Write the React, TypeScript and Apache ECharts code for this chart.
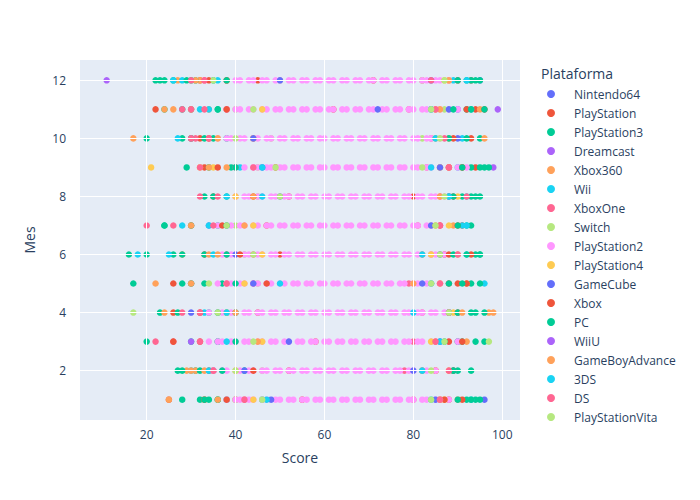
import React, { useEffect, useRef } from 'react';
import * as echarts from 'echarts';

const platforms = [
  'Nintendo64', 'PlayStation', 'PlayStation3', 'Dreamcast', 'Xbox360', 'Wii',
  'XboxOne', 'Switch', 'PlayStation2', 'PlayStation4', 'GameCube', 'Xbox',
  'PC', 'WiiU', 'GameBoyAdvance', '3DS', 'DS', 'PlayStationVita',
];
const colors = [
  '#636efa', '#EF553B', '#00cc96', '#ab63fa', '#FFA15A', '#19d3f3',
  '#FF6692', '#B6E880', '#FF97FF', '#FECB52', '#636efa', '#EF553B',
  '#00cc96', '#ab63fa', '#FFA15A', '#19d3f3', '#FF6692', '#B6E880',
];
const xTicks = [20, 40, 60, 80, 100];
const yTicks = [2, 4, 6, 8, 10, 12];

// scores per platform, one string per month (1..12)
const scores: Record<string, string[]> = {
  Nintendo64: ['96', '', '', '', '', '', '', '', '', '', '84 90', '95'],
  PlayStation: ['25 40 55 88', '34 52 85', '32 58 90', '26 45 88', '26 44 88', '33 50 87', '30 47 91', '35 52 80', '33 49 94', '32 44 93', '22 38 62 94', '32 45 71 93'],
  PlayStation3: ['28 32 36 46 92 94', '27 31 35 42 90', '20 30 36 91 96', '23 27 34 38 93', '17 28 33 37 93', '16 20 26 33 94 95', '24 30 36 92', '33 38 91 94', '29 34 39 93 96', '28 33 38 95', '24 30 36 92', '22 24 30 35 92 94'],
  Dreamcast: ['', '', '30', '', '', '', '', '', '98', '', '99', '11'],
  Xbox360: ['25 33 90', '29 31 85', '36 92', '24 97', '22 38 92', '28 34 90', '30 89', '40 88', '38 91', '17 30 96', '24 30 95', '27 32 88'],
  Wii: ['38 93', '30 89', '36 90', '33 88', '96', '18 35 92', '28 91', '38 92', '41 90', '27 91', '32 93', '28 89'],
  XboxOne: ['42 80', '35 78', '22 26 80', '28 82', '30 79', '38 84', '20 26 81', '32 86', '40 83', '31 84', '30 79', '33 82'],
  Switch: ['40 86', '46 82', '97', '17 88', '45 84', '42 86', '40 84', '45 88', '45 86', '48 82', '40 87', '50 82'],
  PlayStation2: [
    '38 40 41 43 44 46 47 49 50 52 53 55 56 58 59 61 62 64 65 67 68 70 71 73 74 76 77 79 80 82 83 85 86 88',
    '35 37 38 40 41 43 44 46 47 49 50 52 53 55 56 58 59 61 62 64 65 67 68 70 71 73 74 76 77 79 80 82 83 85',
    '34 36 37 39 40 42 43 45 46 48 49 51 52 54 55 57 58 60 61 63 64 66 67 69 70 72 73 75 76 78 79 81 82 84 86 88 90',
    '34 36 37 39 40 42 43 45 46 48 49 51 52 54 55 57 58 60 61 63 64 66 67 69 70 72 73 75 76 78 79 81 82 84 85 87',
    '36 38 39 41 42 44 45 47 48 50 51 53 54 56 57 59 60 62 63 65 66 68 69 71 72 74 75 77 78 80 81 83 84 86',
    '37 39 40 42 43 45 46 48 49 51 52 54 55 57 58 60 61 63 64 66 67 69 70 72 73 75 76 78 79 81 82 84 85 87',
    '36 38 39 41 42 44 45 47 48 50 51 53 54 56 57 59 60 62 63 65 66 68 69 71 72 74 75 77 78 80 81 83 84 86',
    '40 42 43 45 46 48 49 51 52 54 55 57 58 60 61 63 64 66 67 69 70 72 73 75 76 78 79 81 82 84 85 87',
    '42 44 45 47 48 50 51 53 54 56 57 59 60 62 63 65 66 68 69 71 72 74 75 77 78 80 81 83 84 86 88 90 92',
    '36 38 39 41 42 44 45 47 48 50 51 53 54 56 57 59 60 62 63 65 66 68 69 71 72 74 75 77 78 80 81 83 84 86 88',
    '38 40 41 43 44 46 47 49 50 52 53 55 56 58 59 61 62 64 65 67 68 70 71 73 74 76 77 79 80 82 83 85 86 88 90',
    '38 40 41 43 44 46 47 49 50 52 53 55 56 58 59 61 62 64 65 67 68 70 71 73 74 76 77 79 80 82 83 85 86 88',
  ],
  PlayStation4: ['44 87', '40 88', '46 84', '38 89', '42 86', '46 84', '44 88', '40 90', '21 32 35 86', '44 88', '46 85', '38 87'],
  GameCube: ['48 85', '42 80', '52 86', '30 88', '44 82', '40 86', '34 84', '50 88', '46 86', '44 90', '72 88', '50 84'],
  Xbox: ['33 38 87 91', '44 89', '26 88 91', '32 90', '47 90 92', '41 88 93', '37 86 90', '44 89', '36 88 91', '30 34 89', '38 92 96', '34 38 90'],
  PC: ['33 34 36 90 93 95', '28 32 37 89 93', '40 87 94', '36 40 90 94 96', '30 40 88 91 95', '28 38 89 92 95', '24 38 90 93', '35 89 93 95', '40 91 95 97', '20 35 88 92', '28 36 89 93 96', '23 26 29 31 38 90 93 95'],
  WiiU: ['', '', '', '', '', '', '', '', '', '', '', ''],
  GameBoyAdvance: ['36 86', '30 33 82', '45 85', '40 91 98', '30 80', '36 82', '42 85', '44 86', '34 88', '36 85', '26 34 86', '31 88'],
  '3DS': ['47 84', '34 82', '38 86', '38 80', '50 84', '25 82', '34 92', '46 88', '46 84', '30 85', '34 84', '26 36 92'],
  DS: ['42 86', '35 88', '32 85', '32 88', '38 86', '44 90', '35 86', '36 92', '32 44 88', '30 34 87', '28 33 85', '30 33 84'],
  PlayStationVita: ['46 84', '40 84', '44 87', '36 88', '34 84', '44 86', '38 85', '50 87', '49 82', '40 86', '44 84', '35 87'],
};

const toPoints = (name: string) =>
  scores[name].flatMap((s, i) =>
    s.trim() ? s.trim().split(/\s+/).map((v) => [Number(v), i + 1]) : []
  );

const isTick = (v: number, ticks: number[]) => ticks.some((t) => Math.abs(v - t) < 1e-6);

export default function App() {
  const chartRef = useRef<HTMLDivElement>(null);

  useEffect(() => {
    if (!chartRef.current) return;
    const chart = echarts.init(chartRef.current, null, { renderer: 'svg' });
    const font = '"Open Sans", Verdana, Arial, sans-serif';
    const gridLines = {
      type: 'scatter',
      data: [],
      silent: true,
      markLine: {
        silent: true,
        symbol: 'none',
        animation: false,
        label: { show: false },
        lineStyle: { color: '#ffffff', width: 1, type: 'solid' },
        data: [...xTicks.map((x) => ({ xAxis: x })), ...yTicks.map((y) => ({ yAxis: y }))],
      },
    };
    chart.setOption({
      animation: false,
      backgroundColor: '#ffffff',
      textStyle: { fontFamily: font },
      title: {
        text: 'Plataforma',
        left: 536,
        top: 61,
        textStyle: { fontSize: 14, fontWeight: 'normal', color: '#2a3f5f', fontFamily: font },
      },
      legend: {
        orient: 'vertical',
        left: 542,
        top: 83,
        icon: 'circle',
        itemWidth: 8,
        itemHeight: 8,
        itemGap: 7,
        textStyle: { fontSize: 12, color: '#2a3f5f', padding: [0, 0, 0, 14], fontFamily: font },
        data: platforms,
      },
      grid: { left: 80, right: 180, top: 60, bottom: 80, backgroundColor: '#E5ECF6', show: true, borderWidth: 0 },
      xAxis: {
        type: 'value',
        min: 5,
        max: 104,
        interval: 1,
        name: 'Score',
        nameLocation: 'middle',
        nameGap: 30,
        nameTextStyle: { fontSize: 14, color: '#2a3f5f' },
        axisLine: { show: false },
        axisTick: { show: false },
        splitLine: { show: false },
        axisLabel: { color: '#2a3f5f', fontSize: 12, formatter: (v: number) => (isTick(v, xTicks) ? String(Math.round(v)) : '') },
      },
      yAxis: {
        type: 'value',
        min: 0.3,
        max: 12.7,
        interval: 0.1,
        name: 'Mes',
        nameLocation: 'middle',
        nameGap: 44,
        nameTextStyle: { fontSize: 14, color: '#2a3f5f' },
        axisLine: { show: false },
        axisTick: { show: false },
        splitLine: { show: false },
        axisLabel: { color: '#2a3f5f', fontSize: 12, margin: 14, formatter: (v: number) => (isTick(v, yTicks) ? String(Math.round(v)) : '') },
      },
      series: [
        gridLines,
        ...platforms.map((p, i) => ({
          name: p,
          type: 'scatter',
          symbolSize: 6.5,
          itemStyle: { color: colors[i], opacity: 1 },
          data: toPoints(p),
        })),
      ],
    });
    return () => chart.dispose();
  }, []);

  return <div ref={chartRef} style={{ width: 700, height: 500, margin: -8 }} />;
}
